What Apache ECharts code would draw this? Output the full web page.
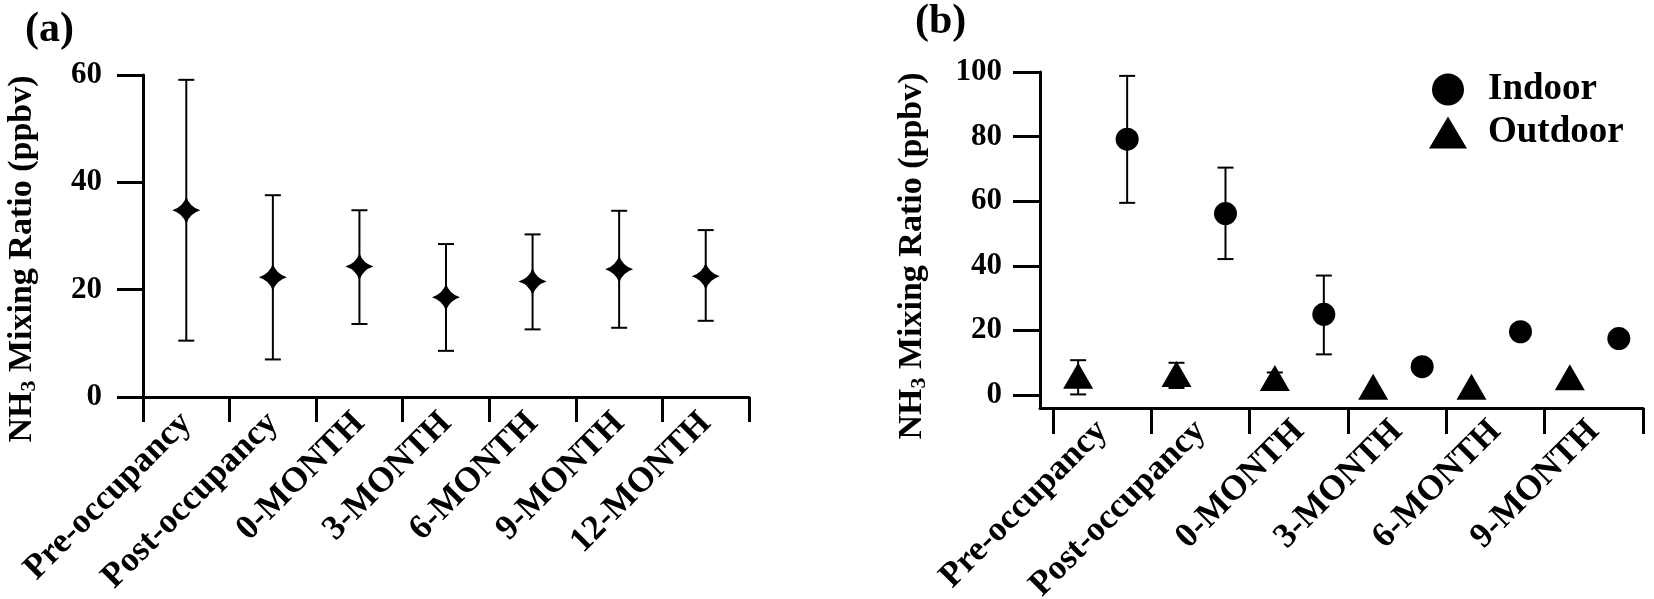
<!DOCTYPE html>
<html>
<head>
<meta charset="utf-8">
<script src="https://cdn.jsdelivr.net/npm/echarts@6/dist/echarts.min.js"></script>
<style>
  html, body { margin: 0; padding: 0; background: #fff; }
  #chart { width: 1654px; height: 599px; }
</style>
</head>
<body>
<div id="chart"></div>
<script>
// ---------- data ----------
const catsA = ['Pre-occupancy', 'Post-occupancy', '0-MONTH', '3-MONTH', '6-MONTH', '9-MONTH', '12-MONTH'];
const meanA = [34.8, 22.3, 24.3, 18.6, 21.5, 23.8, 22.5];
const lowA  = [10.5, 7.0, 13.6, 8.6, 12.6, 12.9, 14.2];
const highA = [59.1, 37.6, 34.8, 28.5, 30.3, 34.7, 31.1];
const yTicksA = [0, 20, 40, 60];

const catsB = ['Pre-occupancy', 'Post-occupancy', '0-MONTH', '3-MONTH', '6-MONTH', '9-MONTH'];
const indoorB     = [79.2, 56.2, 25.0, 8.8, 19.6, 17.5];
const indoorLow   = [59.5, 42.1, 12.6, null, null, null];
const indoorHigh  = [98.8, 70.4, 37.0, null, null, null];
const outdoorB    = [6.0, 6.5, 5.3, 2.6, 2.6, 5.5];
const outdoorLow  = [0.2, 2.2, 3.5, null, null, null];
const outdoorHigh = [10.8, 10.0, 7.0, null, null, null];
const yTicksB = [0, 20, 40, 60, 80, 100];
const seriesNames = ['Indoor', 'Outdoor'];

// ---------- styling ----------
const FONT = '"Liberation Serif", "Times New Roman", serif';
const BLACK = '#000';
const starPath = 'path://M0,-1 Q0.24,-0.24 1,0 Q0.24,0.24 0,1 Q-0.24,0.24 -1,0 Q-0.24,-0.24 0,-1 Z';

function errRenderer(offsetPx, capW) {
  return function (params, api) {
    const x = api.value(0);
    const lo = api.coord([x, api.value(1)]);
    const hi = api.coord([x, api.value(2)]);
    const cx = lo[0] + offsetPx;
    const st = { stroke: BLACK, lineWidth: 2 };
    return {
      type: 'group',
      children: [
        { type: 'line', shape: { x1: cx, y1: lo[1], x2: cx, y2: hi[1] }, style: st },
        { type: 'line', shape: { x1: cx - capW / 2, y1: hi[1], x2: cx + capW / 2, y2: hi[1] }, style: st },
        { type: 'line', shape: { x1: cx - capW / 2, y1: lo[1], x2: cx + capW / 2, y2: lo[1] }, style: st }
      ]
    };
  };
}

function yName(padRight) {
  return {
    padding: [0, padRight, 0, 0],
    rich: {
      n: { fontFamily: FONT, fontWeight: 'bold', fontSize: 34, color: BLACK },
      s: { fontFamily: FONT, fontWeight: 'bold', fontSize: 22, color: BLACK, padding: [14, 0, 0, 0] }
    }
  };
}
const yNameText = '{n|NH}{s|3}{n| Mixing Ratio (ppbv)}';

const errA = catsA.map((c, i) => [i, lowA[i], highA[i]]);
const errIn = [], errOut = [];
catsB.forEach((c, i) => {
  if (indoorLow[i] != null) errIn.push([i + 0.5, indoorLow[i], indoorHigh[i]]);
  if (outdoorLow[i] != null) errOut.push([i + 0.5, outdoorLow[i], outdoorHigh[i]]);
});

const chart = echarts.init(document.getElementById('chart'), null, { renderer: 'canvas' });
const option = {
  backgroundColor: '#fff',
  animation: false,
  title: [
    { text: '(a)', left: 20, top: 4, textStyle: { fontFamily: FONT, fontWeight: 'bold', fontSize: 42, color: BLACK } },
    { text: '(b)', left: 910, top: -4, textStyle: { fontFamily: FONT, fontWeight: 'bold', fontSize: 42, color: BLACK } }
  ],
  legend: {
    data: [{ name: 'Indoor', icon: 'circle' }, { name: 'Outdoor', icon: 'triangle' }],
    orient: 'vertical',
    left: 1424,
    top: 66,
    itemWidth: 38,
    itemHeight: 32,
    itemGap: 6,
    selectedMode: false,
    textStyle: { fontFamily: FONT, fontWeight: 'bold', fontSize: 37, color: BLACK, padding: [0, 0, 0, 16] },
    itemStyle: { color: BLACK }
  },
  grid: [
    { left: 143, right: 1654 - 749, top: 75, bottom: 599 - 397, outerBoundsMode: 'none' },
    { left: 1040, right: 1654 - 1643, top: 72, bottom: 599 - 408, outerBoundsMode: 'none' }
  ],
  xAxis: [
    {
      gridIndex: 0, type: 'category', data: catsA, boundaryGap: true,
      axisLine: { show: true, lineStyle: { color: BLACK, width: 3 } },
      axisTick: { show: true, inside: false, length: 25, interval: 0, lineStyle: { color: BLACK, width: 3 } },
      axisLabel: { interval: 0, rotate: 45, margin: 21, fontFamily: FONT, fontWeight: 'bold', fontSize: 35, color: BLACK, hideOverlap: false },
      splitLine: { show: false }
    },
    {
      gridIndex: 1, type: 'value', min: -0.132, max: catsB.length,
      axisLine: { show: true, onZero: false, lineStyle: { color: BLACK, width: 3 } },
      axisTick: { show: true, inside: false, length: 26, customValues: catsB.map((c, i) => i).concat([catsB.length]), lineStyle: { color: BLACK, width: 3 } },
      axisLabel: {
        rotate: 45, margin: 18, fontFamily: FONT, fontWeight: 'bold', fontSize: 35, color: BLACK, hideOverlap: false,
        customValues: catsB.map((c, i) => i + 0.5),
        formatter: v => catsB[Math.round(v - 0.5)] || ''
      },
      splitLine: { show: false }
    }
  ],
  yAxis: [
    {
      gridIndex: 0, type: 'value', min: 0, max: 60,
      axisLine: { show: true, lineStyle: { color: BLACK, width: 3 } },
      axisTick: { show: true, inside: false, length: 26, customValues: yTicksA, lineStyle: { color: BLACK, width: 3 } },
      axisLabel: { customValues: yTicksA, margin: 41, fontFamily: FONT, fontWeight: 'bold', fontSize: 31, color: BLACK },
      splitLine: { show: false },
      name: yNameText, nameLocation: 'middle', nameGap: 103, nameRotate: 90,
      nameTextStyle: yName(46)
    },
    {
      gridIndex: 1, type: 'value', min: -4, max: 100,
      axisLine: { show: true, onZero: false, lineStyle: { color: BLACK, width: 3 } },
      axisTick: { show: true, inside: false, length: 27, customValues: yTicksB, lineStyle: { color: BLACK, width: 3 } },
      axisLabel: { customValues: yTicksB, margin: 38, fontFamily: FONT, fontWeight: 'bold', fontSize: 31, color: BLACK },
      splitLine: { show: false },
      name: yNameText, nameLocation: 'middle', nameGap: 110, nameRotate: 90,
      nameTextStyle: yName(32)
    }
  ],
  series: [
    {
      type: 'custom', xAxisIndex: 0, yAxisIndex: 0, z: 2,
      renderItem: errRenderer(0, 16), encode: { x: 0, y: [1, 2] }, data: errA
    },
    {
      name: 'NH3', type: 'scatter', xAxisIndex: 0, yAxisIndex: 0, z: 3,
      symbol: starPath, symbolSize: [28, 27], itemStyle: { color: BLACK, opacity: 1 },
      data: meanA.map((v, i) => [i, v])
    },
    {
      type: 'custom', xAxisIndex: 1, yAxisIndex: 1, z: 2,
      renderItem: errRenderer(25, 16), encode: { x: 0, y: [1, 2] }, data: errIn
    },
    {
      type: 'custom', xAxisIndex: 1, yAxisIndex: 1, z: 2,
      renderItem: errRenderer(-24, 16), encode: { x: 0, y: [1, 2] }, data: errOut
    },
    {
      name: seriesNames[0], type: 'scatter', xAxisIndex: 1, yAxisIndex: 1, z: 3,
      symbol: 'circle', symbolSize: 23, symbolOffset: [25, 0], itemStyle: { color: BLACK, opacity: 1 },
      data: indoorB.map((v, i) => [i + 0.5, v])
    },
    {
      name: seriesNames[1], type: 'scatter', xAxisIndex: 1, yAxisIndex: 1, z: 3,
      symbol: 'triangle', symbolSize: [30, 26], symbolOffset: [-24, 0], itemStyle: { color: BLACK, opacity: 1 },
      data: outdoorB.map((v, i) => [i + 0.5, v])
    }
  ]
};
chart.setOption(option);
</script>
</body>
</html>
